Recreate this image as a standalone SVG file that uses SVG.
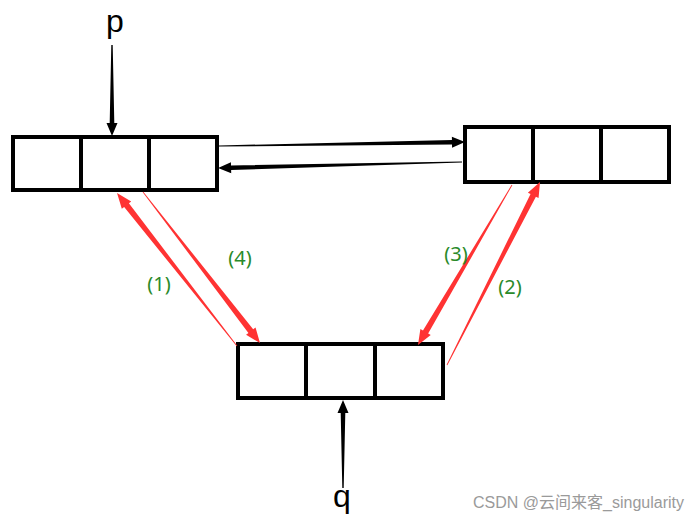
<svg xmlns="http://www.w3.org/2000/svg" width="700" height="524" viewBox="0 0 700 524">
<style>
.cell{fill:#fff;stroke:#000;stroke-width:4}
.blk{fill:#000}
.red{fill:#f33}
.lbl{font-family:"Noto Sans","DejaVu Sans",sans-serif;font-size:20px;fill:#2a8a2a;text-anchor:middle}
.ptr{font-family:"Liberation Sans",Arial,sans-serif;font-size:32px;fill:#000;text-anchor:middle}
.wm{font-family:"Liberation Sans","Noto Sans CJK SC",sans-serif;font-size:16px;fill:#9a9a9a}
</style>
<rect width="700" height="524" fill="#fff"/>
<g id="nodeA">
<rect class="cell" x="13" y="137" width="68" height="53"/>
<rect class="cell" x="81" y="137" width="68" height="53"/>
<rect class="cell" x="149" y="137" width="68" height="53"/>
</g>
<g id="nodeB">
<rect class="cell" x="465" y="127" width="68" height="55"/>
<rect class="cell" x="533" y="127" width="68" height="55"/>
<rect class="cell" x="601" y="127" width="68" height="55"/>
</g>
<g id="nodeC">
<rect class="cell" x="238" y="344" width="68" height="54"/>
<rect class="cell" x="306" y="344" width="69" height="54"/>
<rect class="cell" x="375" y="344" width="68" height="54"/>
</g>
<g id="connectors">
<polygon class="blk" transform="translate(112,45) rotate(90)" points="0,-0.7 78,-2.3 78,-5.5 91,0 78,5.5 78,2.3 0,0.7"/>
<polygon class="blk" transform="translate(343,488) rotate(-90)" points="0,-0.7 75,-2.3 75,-5.5 88,0 75,5.5 75,2.3 0,0.7"/>
<polygon class="blk" transform="translate(219,146) rotate(-0.93)" points="0,-0.5 233,-2.3 233,-5.5 246,0 233,5.5 233,2.3 0,0.5"/>
<polygon class="blk" transform="translate(462,162) rotate(178.59)" points="0,-0.5 231,-2.3 231,-5.5 244,0 231,5.5 231,2.3 0,0.5"/>
<polygon class="red" transform="translate(237,346) rotate(-128.11)" points="0,-0.4 179,-3 179,-6 194.4,0 179,6 179,3 0,0.4"/>
<polygon class="red" transform="translate(143,192) rotate(52.23)" points="0,-0.4 176,-3 176,-6 191,0 176,6 176,3 0,0.4"/>
<polygon class="red" transform="translate(512,185) rotate(120.44)" points="0,-0.4 170.6,-3 170.6,-6 185.6,0 170.6,6 170.6,3 0,0.4"/>
<polygon class="red" transform="translate(447,365) rotate(-63.06)" points="0,-0.4 190.3,-3 190.3,-6 205.3,0 190.3,6 190.3,3 0,0.4"/>
</g>
<text class="ptr" x="115" y="32">p</text>
<text class="ptr" x="342" y="507">q</text>
<text class="lbl" x="159" y="291">(1)</text>
<text class="lbl" x="240" y="265">(4)</text>
<text class="lbl" x="456" y="261">(3)</text>
<text class="lbl" x="510" y="294">(2)</text>
<text class="wm" x="473" y="508">CSDN @云间来客_singularity</text>
</svg>
